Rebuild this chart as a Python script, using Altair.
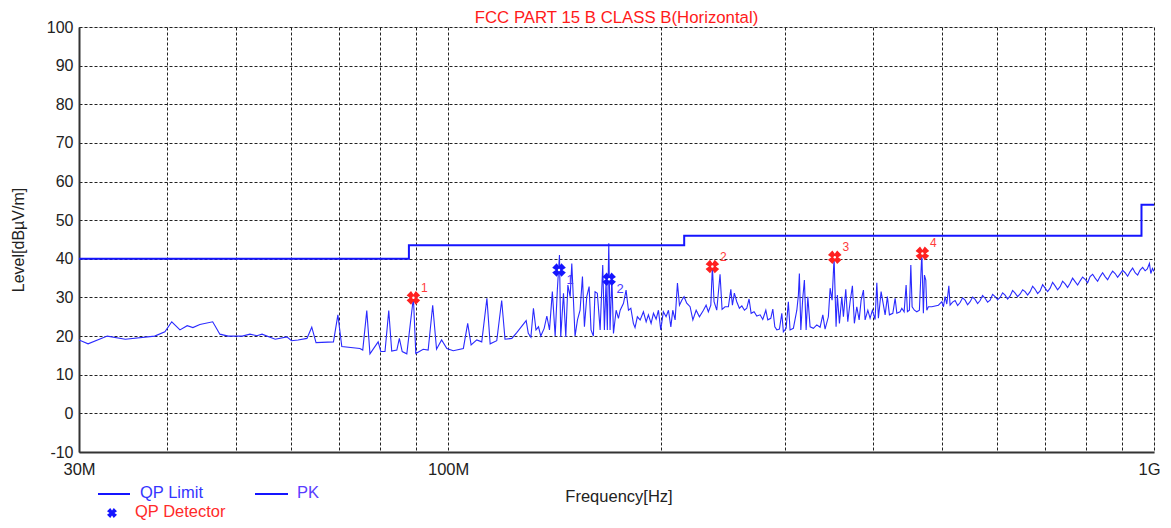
import altair as alt
import pandas as pd

FONT = "Liberation Sans"

# ---------------- data ----------------
# QP limit (FCC Part 15 B class B, 3 m), step boundaries in MHz
limit_freq = [30.0, 88.0, 216.0, 960.0, 1000.0]
limit_level = [40.0, 43.5, 46.0, 54.0, 54.0]

# PK trace (MHz, dBuV/m)
pk_freq_a = [30.0, 30.9, 32.9, 34.9, 38.4, 39.7, 40.6, 41.7, 42.7, 43.5, 44.5, 46.4, 47.5, 48.8,
             51.1, 52.4, 53.6, 54.5, 56.9, 59.1, 60.0, 61.3]
pk_level_a = [19.0, 18.0, 20.0, 19.2, 20.0, 21.1, 23.7, 21.6, 22.7, 22.2, 23.0, 23.7, 20.5, 20.0,
              20.0, 20.5, 20.1, 20.5, 19.2, 19.8, 18.8, 19.0]

pk_freq_b = [63.1, 64.1, 65.0, 68.8, 69.8, 70.7, 75.0, 75.7, 76.7, 77.5,
             79.6, 80.3, 81.4, 82.4, 83.2, 84.6, 85.3, 86.1, 87.4, 88.3,
             89.3, 90.0, 92.2, 93.7, 95.1, 96.3, 97.9, 99.6, 101.7, 105.1,
             106.6, 107.8, 109.8, 111.6, 113.5, 114.7, 117.2, 119.1, 120.4, 123.1,
             125.1]
pk_level_b = [19.4, 22.3, 18.3, 18.5, 25.5, 17.3, 16.8, 16.4, 26.6, 15.4,
              18.5, 16.0, 16.0, 26.6, 16.1, 16.4, 19.4, 16.0, 15.4, 22.4,
              30.0, 15.5, 16.6, 16.4, 28.0, 16.6, 19.0, 16.8, 16.2, 16.8,
              23.3, 17.7, 19.0, 18.5, 29.8, 18.0, 18.8, 29.2, 19.2, 19.4,
              20.9]

pk_freq_c = [129.0, 129.9, 131.0, 132.1, 133.2, 134.3, 135.3, 136.8, 138.0, 139.2,
             140.5, 141.8, 142.8, 143.8, 144.4, 145.7, 146.8, 147.8, 148.9, 149.7,
             151.3, 152.5, 153.8, 155.0, 156.0, 157.2, 158.4, 159.4, 160.6, 161.5,
             162.7, 164.2, 165.6, 166.5, 167.4, 168.1, 168.9, 169.6, 170.6, 171.5,
             173.0, 174.3, 175.3, 177.2, 178.7, 180.1, 181.5, 183.0, 184.0, 185.4,
             187.1, 189.1, 190.8, 192.2, 193.9, 195.4, 197.1, 198.6, 200.1, 201.8,
             203.6, 205.2, 206.8, 208.1, 209.7, 211.3, 212.7, 214.3, 215.9, 217.8,
             220.2, 222.2, 224.6, 227.0]
pk_level_c = [24.0, 20.7, 19.7, 27.2, 21.6, 22.4, 20.0, 22.0, 25.2, 21.6,
              31.5, 20.0, 31.9, 41.0, 19.8, 31.1, 19.8, 33.2, 30.2, 38.8,
              20.0, 24.2, 26.7, 35.4, 22.4, 30.2, 32.8, 21.6, 20.0, 31.5,
              31.1, 21.6, 38.4, 21.6, 34.1, 21.6, 44.0, 21.6, 35.0, 20.7,
              26.7, 24.6, 26.7, 28.5, 31.9, 26.7, 27.2, 23.3, 22.2, 25.0,
              24.2, 26.3, 23.7, 25.5, 23.3, 25.9, 24.4, 26.7, 21.6, 26.3,
              25.0, 26.7, 22.4, 26.7, 24.2, 33.7, 28.0, 29.3, 30.2, 28.5,
              27.6, 24.2, 26.7, 25.0]

pk_freq_d = [230.0, 232.0, 233.7, 235.6, 236.8, 238.1, 240.2, 242.8, 244.4, 246.8,
             249.5, 251.5, 252.8, 254.4, 256.4, 258.6, 260.7, 262.9, 264.9, 266.9,
             268.7, 271.3, 273.7, 276.7, 279.1, 281.9, 283.7, 286.5, 288.4, 290.3,
             292.2, 294.7, 297.0, 298.5, 301.2, 303.4, 305.1, 308.4, 311.9, 313.5,
             314.5, 316.0, 318.0, 319.7, 321.5, 323.3, 325.7, 329.2, 332.9, 336.5,
             339.5, 342.0, 345.7, 347.7, 349.9, 352.2, 354.5, 356.0, 358.4, 361.2,
             363.1, 365.9, 368.3, 371.1, 373.9, 376.3, 379.3, 382.2, 384.7, 387.6,
             389.7, 393.2, 396.1, 399.1, 402.6, 404.9, 407.0, 410.6]
pk_level_d = [26.7, 28.0, 26.3, 28.0, 38.0, 28.9, 26.7, 36.0, 26.9, 27.6,
              27.6, 32.1, 28.0, 31.1, 28.9, 27.2, 27.8, 26.7, 27.2, 29.6,
              25.9, 26.3, 25.2, 25.5, 24.3, 26.7, 24.2, 24.6, 27.0, 22.4,
              21.6, 21.8, 25.9, 21.1, 22.0, 28.9, 21.6, 22.0, 26.7, 30.6,
              36.2, 21.6, 29.8, 34.5, 21.6, 30.2, 22.4, 22.0, 22.9, 22.3,
              25.5, 21.8, 25.0, 32.4, 29.3, 40.3, 22.4, 30.6, 23.3, 30.2,
              25.0, 32.1, 23.7, 28.9, 33.0, 23.3, 27.6, 24.2, 29.3, 31.9,
              24.2, 26.7, 24.6, 26.7, 24.3, 33.8, 24.6, 31.5]

pk_freq_e = [416.0, 419.1, 421.9, 426.6, 429.8, 432.2, 436.8, 439.3, 442.6, 445.5,
             447.4, 450.3, 452.4, 454.3, 457.7, 461.3, 465.2, 468.9, 471.3, 472.9,
             475.0, 476.6, 479.1, 484.4, 489.7, 495.0]
pk_level_e = [25.5, 30.2, 25.5, 25.9, 29.8, 25.9, 26.3, 27.2, 26.3, 33.2,
              26.3, 26.7, 38.4, 27.6, 26.7, 26.3, 26.7, 41.5, 25.9, 35.8,
              34.5, 26.7, 27.6, 27.6, 27.8, 28.0]

pk_freq_f = [500.5, 503.2, 505.9, 508.7, 512.1, 514.2, 518.4, 522.7, 527.0, 531.3,
             535.6, 540.0, 544.4, 548.9, 553.4, 557.9, 562.5, 567.1, 571.7, 576.4,
             581.1, 585.9, 590.7, 595.6, 600.5, 605.4, 610.3, 615.3, 620.3, 625.4,
             630.5, 635.7, 640.9, 646.2, 651.5, 656.8, 662.2, 667.6, 673.1, 678.6,
             684.1, 689.7, 695.4, 701.1, 706.8, 712.6, 718.4, 724.3, 730.2, 736.2,
             742.2, 748.3, 754.4, 760.6, 766.8, 773.1, 779.5, 785.9, 792.3, 798.8,
             805.3, 811.9, 818.6, 825.3, 832.0, 838.8, 845.7, 852.6, 859.6, 866.7,
             873.8, 880.9, 888.1, 895.4, 902.7, 910.1, 917.6, 925.1, 932.7, 940.3,
             948.0, 955.7, 963.6, 971.5, 978.3, 985.2, 989.7, 995.0, 1000.0]
pk_level_f = [28.9, 27.6, 30.2, 28.3, 33.0, 28.0, 28.8, 29.2, 27.9, 28.7,
              29.9, 29.3, 28.1, 28.9, 30.1, 29.5, 28.4, 29.2, 30.5, 29.8,
              28.8, 29.3, 30.8, 30.2, 29.4, 30.0, 31.2, 30.6, 29.6, 30.4,
              31.8, 31.1, 30.2, 30.9, 32.0, 31.5, 30.6, 31.5, 32.9, 32.1,
              31.0, 31.7, 33.3, 32.4, 31.5, 32.4, 33.9, 33.0, 32.0, 32.8,
              34.2, 33.5, 32.6, 33.7, 35.0, 34.1, 33.2, 34.3, 35.3, 34.7,
              33.8, 35.4, 36.0, 35.0, 34.2, 35.4, 36.4, 35.4, 34.6, 35.8,
              36.8, 36.2, 35.2, 36.1, 37.0, 36.4, 35.5, 36.7, 37.6, 36.4,
              35.8, 37.1, 37.8, 36.9, 37.4, 38.8, 36.2, 37.5, 36.7]

# QP detector readings
qp_red_freq = [89.3, 236.8, 353.0, 469.8]
qp_red_level = [29.9, 38.0, 40.4, 41.4]
qp_red_label = ["1", "2", "3", "4"]
qp_blue_freq = [143.6, 169.1]
qp_blue_level = [37.1, 34.7]
qp_blue_label = ["1", "2"]

x_grid_values = [30, 40, 50, 60, 70, 80, 90, 100, 200, 300, 400, 500, 600, 700, 800, 900, 1000]
y_values = list(range(-10, 101, 10))

TITLE = "FCC PART 15 B CLASS B(Horizontal)"

# ---------------- tables ----------------
pk_freq = pk_freq_a + pk_freq_b + pk_freq_c + pk_freq_d + pk_freq_e + pk_freq_f
pk_level = pk_level_a + pk_level_b + pk_level_c + pk_level_d + pk_level_e + pk_level_f
assert len(pk_freq) == len(pk_level)
pk_df = pd.DataFrame({"f": pk_freq, "v": pk_level})
lim_df = pd.DataFrame({"f": limit_freq, "v": limit_level})
red_df = pd.DataFrame({"f": qp_red_freq, "v": qp_red_level, "t": qp_red_label})
blue_df = pd.DataFrame({"f": qp_blue_freq, "v": qp_blue_level, "t": qp_blue_label})
one = pd.DataFrame({"a": [0]})

W, H = 1075, 425
BLUE = "#1515ff"
RED = "#ff2020"
XSHAPE = ("M-0.35,-1 L0,-0.5 L0.35,-1 L1,-0.35 L0.5,0 L1,0.35 L0.35,1 L0,0.5 "
          "L-0.35,1 L-1,0.35 L-0.5,0 L-1,-0.35 Z")

x_scale = alt.Scale(type="log", domain=[30, 1000], nice=False)
y_scale = alt.Scale(domain=[-10, 100], nice=False)

label_expr = ("datum.value == 30 ? '30M' : datum.value == 100 ? '100M' : "
              "datum.value == 1000 ? '1G' : ''")

x_axis = alt.Axis(values=x_grid_values, labelExpr=label_expr, labelFlush=False,
                  labelOverlap=False, labelFontSize=16.5, labelPadding=9, labelColor="#222",
                  labelOffset={"condition": {"test": "datum.value == 1000", "value": -5},
                               "value": 0},
                  labelFont=FONT, ticks=False, grid=True, gridDash=[3, 2], gridColor="#222",
                  gridWidth=1, gridOpacity=1, domainColor="#333", domainWidth=2,
                  title="Frequency[Hz]", titleFont=FONT, titleFontSize=16.5,
                  titleFontWeight="normal", titleColor="#222", titleX=W / 2 + 2, titleY=44,
                  titleBaseline="middle", titleAlign="center")
y_axis = alt.Axis(values=y_values, labelExpr="'' + datum.value", labelFlush=False,
                  labelOverlap=False, labelFontSize=16, labelPadding=6, labelColor="#222",
                  labelFont=FONT, ticks=False, grid=True,
                  gridDash=[3, 2], gridColor="#222", gridWidth=1, gridOpacity=1,
                  domainColor="#333", domainWidth=2, title="Level[dBµV/m]", titleFont=FONT,
                  titleFontSize=16, titleFontWeight="normal", titleColor="#222",
                  titleX=-61, titleY=H / 2, titleAngle=270, titleBaseline="middle",
                  titleAlign="center")


def X():
    return alt.X("f:Q", scale=x_scale, axis=x_axis)


def Y():
    return alt.Y("v:Q", scale=y_scale, axis=y_axis)


pk = alt.Chart(pk_df).mark_line(color="#2a2aff", strokeWidth=1.1, clip=True).encode(x=X(), y=Y())

limit = alt.Chart(lim_df).mark_line(color=BLUE, strokeWidth=2, interpolate="step-after",
                                     clip=True).encode(x=X(), y=Y())

red_pts = alt.Chart(red_df).mark_point(shape=XSHAPE, filled=True, size=185, color=RED,
                                        opacity=1).encode(x=X(), y=Y())
blue_pts = alt.Chart(blue_df).mark_point(shape=XSHAPE, filled=True, size=185, color=BLUE,
                                          opacity=1).encode(x=X(), y=Y())
holes = alt.Chart(pd.concat([red_df, blue_df])).mark_point(shape="circle", filled=True,
                                                           size=6, color="white",
                                                           opacity=1).encode(x=X(), y=Y())

red_txt = alt.Chart(red_df).mark_text(color="#ff3b3b", fontSize=12, font=FONT, dx=11, dy=-10,
                                      align="center", baseline="middle").encode(
    x=X(), y=Y(), text="t:N")
blue_txt = alt.Chart(blue_df).mark_text(color="#4a3aff", fontSize=13, font=FONT, dx=11, dy=10,
                                        align="center", baseline="middle").encode(
    x=X(), y=Y(), text="t:N")

# ---------------- title and legend ----------------
title_txt = alt.Chart(one).mark_text(text=TITLE, color="#ff1a1a", fontSize=16.8, font=FONT,
                                     align="center", baseline="middle").encode(
    x=alt.value(W / 2), y=alt.value(-9))
leg_line1 = alt.Chart(one).mark_rule(color=BLUE, strokeWidth=2).encode(
    x=alt.value(19), x2=alt.value(51), y=alt.value(467))
leg_txt1 = alt.Chart(one).mark_text(text="QP Limit", color="#3535ff", fontSize=16.5, font=FONT,
                                    align="left", baseline="middle").encode(
    x=alt.value(61), y=alt.value(466))
leg_line2 = alt.Chart(one).mark_rule(color=BLUE, strokeWidth=2).encode(
    x=alt.value(176), x2=alt.value(209), y=alt.value(467))
leg_txt2 = alt.Chart(one).mark_text(text="PK", color="#5a3cff", fontSize=16.5, font=FONT,
                                    align="left", baseline="middle").encode(
    x=alt.value(218), y=alt.value(466))
leg_pt = alt.Chart(one).mark_point(shape=XSHAPE, filled=True, size=100, color=BLUE,
                                   opacity=1).encode(x=alt.value(33), y=alt.value(486))
leg_txt3 = alt.Chart(one).mark_text(text="QP Detector", color="#ff2a2a", fontSize=16.5,
                                    font=FONT, align="left", baseline="middle").encode(
    x=alt.value(56), y=alt.value(484.5))

chart = alt.layer(
    pk, limit, red_pts, blue_pts, holes, red_txt, blue_txt,
    title_txt, leg_line1, leg_txt1, leg_line2, leg_txt2, leg_pt, leg_txt3,
).properties(
    width=W, height=H,
    autosize=alt.AutoSizeParams(type="none"),
    padding={"left": 71, "top": 19, "right": 9, "bottom": 68},
).configure_view(stroke="#555", strokeWidth=1.5).configure(background="white")

chart.save("out.html", embed_options={"renderer": "svg", "actions": False})
